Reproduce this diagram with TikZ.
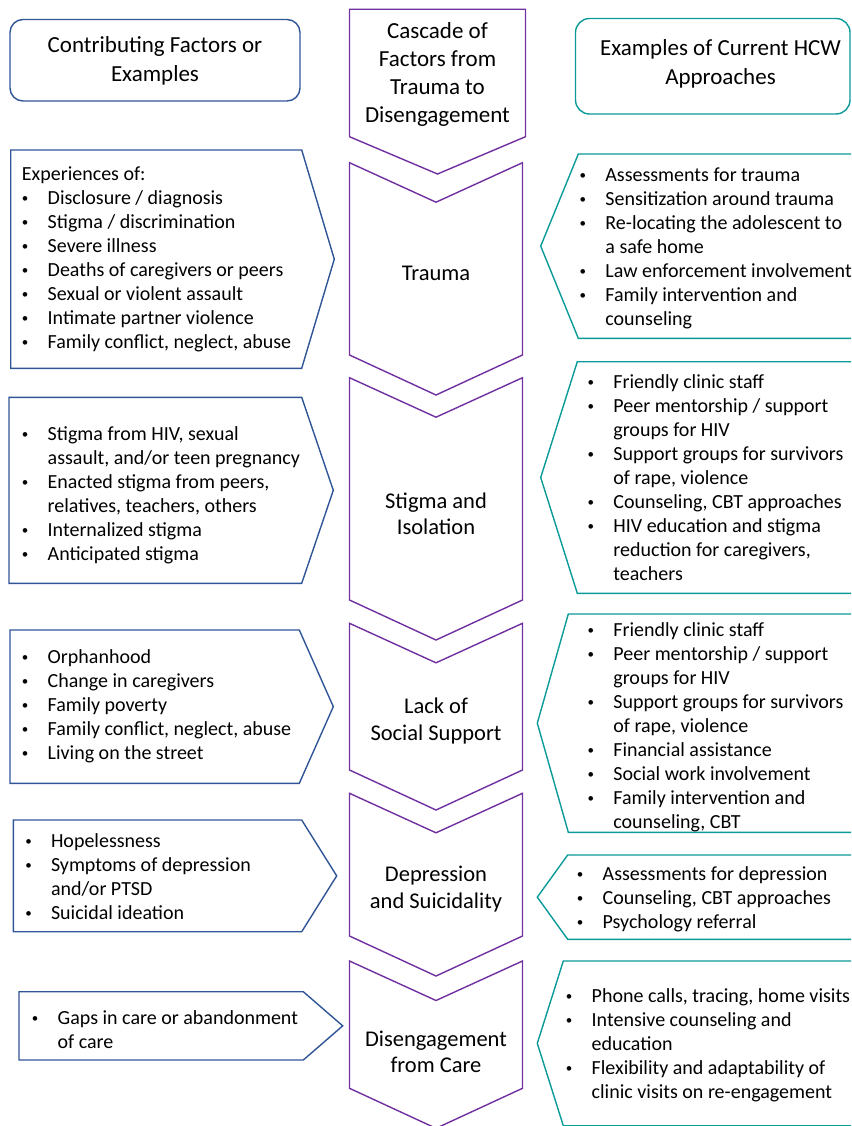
\documentclass[tikz,border=0pt]{standalone}
\usepackage{fontspec}
\setmainfont{Carlito}
\usepackage{tikz}
\definecolor{factblue}{HTML}{2F5597}
\definecolor{cascpurple}{HTML}{7030A0}
\definecolor{hcwteal}{HTML}{0A9A98}

% bullet item and continuation line inside the lists
\newcommand\itm{\strut\makebox[0pt]{\raisebox{2.2pt}{\fontsize{13}{13}\selectfont\textbullet}}\hspace{22.5pt}}
\newcommand\cnt{\strut\hspace*{22.5pt}}

% chevron of the cascade: top edge, bottom of the sides
\newcommand\chevron[2]{\draw[cascade] (349.5,#1) -- (436,#1+39.5) -- (522.5,#1)
  -- (522.5,#2) -- (436,#2+40) -- (349.5,#2) -- cycle;}
% left pentagon: left x, top, bottom, right x, tip x
\newcommand\factbox[5]{\draw[factor] (#1,#2) -- (#4,#2) -- (#5,{(#2+#3)/2})
  -- (#4,#3) -- (#1,#3) -- cycle;}
% right pentagon: top, bottom, corner x, tip x
\newcommand\hcwbox[4]{\draw[approach] (880,#1) -- (#3,#1) -- (#4,{(#1+#2)/2})
  -- (#3,#2) -- (880,#2);}

\begin{document}
\begin{tikzpicture}[x=1pt,y=-1pt,
  cascade/.style={draw=cascpurple,line width=1.4pt,line join=miter},
  factor/.style={draw=factblue,line width=1.4pt},
  approach/.style={draw=hcwteal,line width=1.4pt},
  label/.style={align=center,inner sep=0pt,font=\fontsize{22.5}{26.5}\selectfont},
  header/.style={align=center,inner sep=0pt,font=\fontsize{23}{28.3}\selectfont},
  list/.style={anchor=north west,inner sep=0pt,align=left,yshift=9.8pt,
    font=\fontsize{20}{24}\selectfont}]
\useasboundingbox (0,0) rectangle (851,1126);
\clip (0,0) rectangle (851,1126);

% headers
\draw[factor,rounded corners=13pt] (10,19.5) rectangle (300,101);
\draw[approach,rounded corners=14pt] (575.5,18.5) rectangle (850,114);
\draw[cascade] (349.5,9.3) -- (525.5,9.3) -- (525.5,136.7) -- (437.5,174)
  -- (349.5,136.7) -- cycle;
\node[header] (factHead) at (155,61) {Contributing Factors or\\Examples};
\node[header] (cascHead) at (437.5,74.5) {Cascade of\\Factors from\\Trauma to\\Disengagement};
\node[header] (hcwHead) at (720.5,64) {Examples of Current HCW\\Approaches};

% cascade
\chevron{162.7}{355}
\chevron{377.7}{600}
\chevron{623.3}{770}
\chevron{793.3}{936}
\chevron{961}{1088.3}
\node[label] (trauma) at (436,273) {Trauma};
\node[label] (stigma) at (436,514) {Stigma and\\Isolation};
\node[label] (support) at (436,721) {Lack of\\Social Support};
\node[label] (depress) at (436,889) {Depression\\and Suicidality};
\node[label] (disengage) at (436,1052) {Disengagement\\from Care};

% contributing factors
\factbox{10.7}{150}{368.3}{301.7}{334.3}
\factbox{9}{397.3}{583.3}{301.7}{333.3}
\factbox{10}{630}{783.3}{299.3}{333.3}
\factbox{13.3}{820}{931.7}{301.7}{336.7}
\factbox{19}{991.7}{1060}{303.3}{342.7}
\node[list] (factTrauma) at (25,173.3) {\strut\hspace*{-3.3pt}Experiences of:\\
  \itm Disclosure / diagnosis\\ \itm Stigma / discrimination\\ \itm Severe illness\\
  \itm Deaths of caregivers or peers\\ \itm Sexual or violent assault\\
  \itm Intimate partner violence\\ \itm Family conflict, neglect, abuse};
\node[list] (factStigma) at (25,433.3) {\itm Stigma from HIV, sexual\\
  \cnt assault, and/or teen pregnancy\\ \itm Enacted stigma from peers,\\
  \cnt relatives, teachers, others\\ \itm Internalized stigma\\ \itm Anticipated stigma};
\node[list] (factSupport) at (25,656) {\itm Orphanhood\\ \itm Change in caregivers\\
  \itm Family poverty\\ \itm Family conflict, neglect, abuse\\ \itm Living on the street};
\node[list] (factDepress) at (28.3,840.7) {\itm Hopelessness\\ \itm Symptoms of depression\\
  \cnt and/or PTSD\\ \itm Suicidal ideation};
\node[list] (factDisengage) at (35,1017.3) {\itm Gaps in care or abandonment\\ \cnt of care};

% current HCW approaches
\hcwbox{154}{338.3}{578.3}{540.7}
\hcwbox{361.7}{593.3}{577.3}{540.7}
\hcwbox{614}{832.3}{568.3}{537.3}
\hcwbox{855}{939.3}{567.7}{537.3}
\hcwbox{961}{1125.7}{563.3}{537.3}
\node[list] (hcwTrauma) at (582.7,174) {\itm Assessments for trauma\\
  \itm Sensitization around trauma\\ \itm Re-locating the adolescent to\\
  \cnt a safe home\\ \itm Law enforcement involvement\\ \itm Family intervention and\\
  \cnt counseling};
\node[list] (hcwStigma) at (590.7,381.7) {\itm Friendly clinic staff\\
  \itm Peer mentorship / support\\ \cnt groups for HIV\\
  \itm Support groups for survivors\\ \cnt of rape, violence\\
  \itm Counseling, CBT approaches\\ \itm HIV education and stigma\\
  \cnt reduction for caregivers,\\ \cnt teachers};
\node[list] (hcwSupport) at (590.7,629.3) {\itm Friendly clinic staff\\
  \itm Peer mentorship / support\\ \cnt groups for HIV\\
  \itm Support groups for survivors\\ \cnt of rape, violence\\
  \itm Financial assistance\\ \itm Social work involvement\\
  \itm Family intervention and\\ \cnt counseling, CBT};
\node[list] (hcwDepress) at (580,873.3) {\itm Assessments for depression\\
  \itm Counseling, CBT approaches\\ \itm Psychology referral};
\node[list] (hcwDisengage) at (569,995) {\itm Phone calls, tracing, home visits\\
  \itm Intensive counseling and\\ \cnt education\\
  \itm Flexibility and adaptability of\\ \cnt clinic visits on re-engagement};
\end{tikzpicture}
\end{document}
